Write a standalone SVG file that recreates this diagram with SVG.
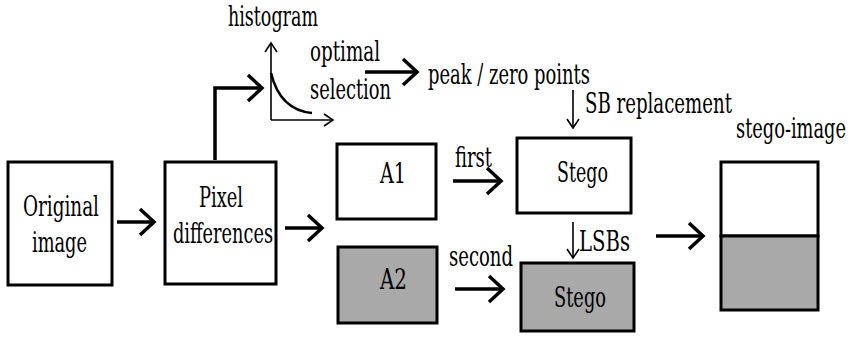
<svg xmlns="http://www.w3.org/2000/svg" width="852" height="342" viewBox="0 0 852 342">
<defs>
<style>
text{font-family:"DejaVu Serif","Liberation Serif",serif;font-size:28px;fill:#000}
.box{fill:#fff;stroke:#000;stroke-width:3}
.gray{fill:#a9a9a9;stroke:#000;stroke-width:3}
.big{fill:none;stroke:#000;stroke-width:3.5;marker-end:url(#open)}
.thin{fill:none;stroke:#000;stroke-width:1.6;marker-end:url(#small)}
</style>
<marker id="open" markerUnits="userSpaceOnUse" markerWidth="22" markerHeight="32" refX="17" refY="15" orient="auto" overflow="visible">
<path d="M3,2 L17,15 L3,28" fill="none" stroke="#000" stroke-width="3.5"/>
</marker>
<marker id="small" markerUnits="userSpaceOnUse" markerWidth="12" markerHeight="16" refX="10" refY="7" orient="auto" overflow="visible">
<path d="M1,1 L10,7 L1,13" fill="none" stroke="#000" stroke-width="1.6"/>
</marker>
</defs>
<rect width="852" height="342" fill="#fff"/>

<g id="connectors">
<line class="big" x1="117" y1="222" x2="154" y2="222"/>
<line class="big" x1="285" y1="228" x2="322" y2="228"/>
<path class="big" d="M215,160 V88 H262"/>
<line class="big" x1="365" y1="72" x2="417" y2="72"/>
<line class="big" x1="453" y1="181" x2="501" y2="181"/>
<line class="big" x1="455" y1="289" x2="503" y2="289"/>
<line class="big" x1="656" y1="236" x2="703" y2="236"/>
<line class="thin" x1="573" y1="90" x2="573" y2="128"/>
<line class="thin" x1="573" y1="222" x2="573" y2="258"/>
</g>

<g id="histogram">
<line class="thin" x1="271" y1="120" x2="271" y2="43"/>
<line class="thin" x1="271" y1="120" x2="333" y2="120"/>
<path d="M271,73 Q280,110 312,113" fill="none" stroke="#000" stroke-width="2.6"/>
<text x="228" y="26" textLength="90" lengthAdjust="spacingAndGlyphs">histogram</text>
</g>

<g id="optimal-selection">
<text x="310" y="61" textLength="70" lengthAdjust="spacingAndGlyphs">optimal</text>
<text x="310" y="99" textLength="81" lengthAdjust="spacingAndGlyphs">selection</text>
</g>

<g id="peak-zero">
<text x="428" y="84" textLength="162" lengthAdjust="spacingAndGlyphs">peak / zero points</text>
</g>

<g id="lsb-replacement">
<text transform="translate(585,113) scale(0.605,1)" x="0" y="0" textLength="243" lengthAdjust="spacingAndGlyphs">SB replacement</text>
</g>

<g id="original">
<rect class="box" x="8" y="162" width="104" height="123"/>
<text x="23" y="216" textLength="76" lengthAdjust="spacingAndGlyphs">Original</text>
<text x="32" y="252" textLength="55" lengthAdjust="spacingAndGlyphs">image</text>
</g>

<g id="pixel">
<rect class="box" x="165" y="162" width="111" height="122"/>
<text x="199" y="207" textLength="44" lengthAdjust="spacingAndGlyphs">Pixel</text>
<text x="173" y="243" textLength="100" lengthAdjust="spacingAndGlyphs">differences</text>
</g>

<g id="a1">
<rect class="box" x="337" y="144" width="99" height="75"/>
<text x="380" y="183" textLength="26" lengthAdjust="spacingAndGlyphs">A1</text>
</g>

<g id="a2">
<rect class="gray" x="338" y="247" width="99" height="76"/>
<text x="380" y="289" textLength="27" lengthAdjust="spacingAndGlyphs">A2</text>
</g>

<g id="labels">
<text x="455" y="167" textLength="37" lengthAdjust="spacingAndGlyphs">first</text>
<text x="449" y="266" textLength="64" lengthAdjust="spacingAndGlyphs">second</text>
<text x="579" y="251" textLength="51" lengthAdjust="spacingAndGlyphs">LSBs</text>
</g>

<g id="stego1">
<rect class="box" x="517" y="138" width="114" height="75"/>
<text x="557" y="182" textLength="51" lengthAdjust="spacingAndGlyphs">Stego</text>
</g>

<g id="stego2">
<rect class="gray" x="521" y="263" width="113" height="68"/>
<text x="554" y="307" textLength="52" lengthAdjust="spacingAndGlyphs">Stego</text>
</g>

<g id="stego-image">
<rect class="box" x="721" y="162" width="97" height="74"/>
<rect class="gray" x="721" y="236" width="97" height="74"/>
<text transform="translate(736,138) scale(0.636,1)" x="0" y="0" textLength="173" lengthAdjust="spacingAndGlyphs">stego-image</text>
</g>
</svg>
